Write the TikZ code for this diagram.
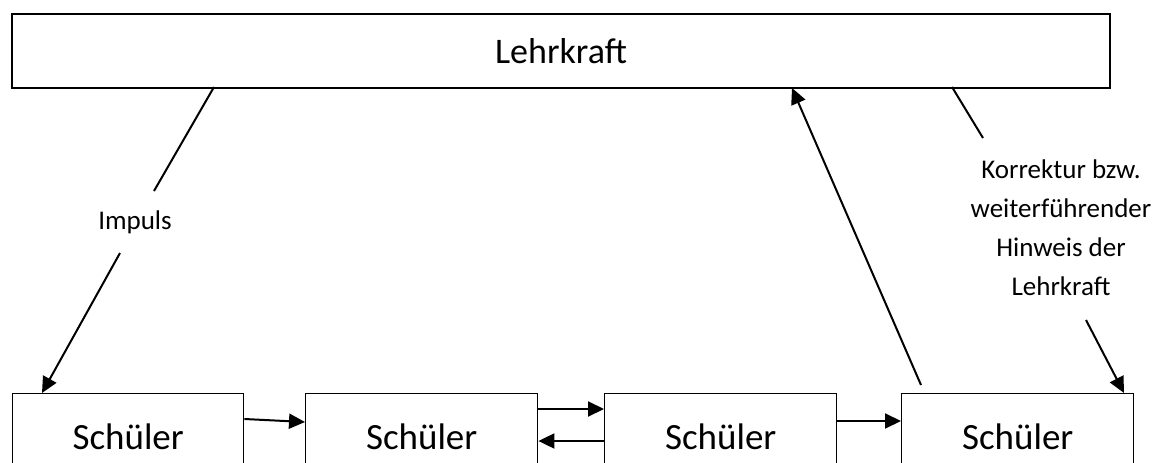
\documentclass[tikz,border=0pt]{standalone}
\usepackage{fontspec}
\setmainfont{Carlito}
\usetikzlibrary{arrows.meta}
\begin{document}
\begin{tikzpicture}[x=1pt,y=-1pt,
  box/.style={draw,line width=1.4pt,inner sep=0pt,anchor=north west,minimum height=86pt,font=\fontsize{37}{44}\selectfont},
  conn/.style={line width=2pt},
  arr/.style={conn,-{Triangle[length=16pt,width=15pt]}},
  lbl/.style={font=\fontsize{27}{39}\selectfont,align=center,inner sep=0pt}]
\useasboundingbox (0,0) rectangle (1173,463);
\clip (0,0) rectangle (1173,463);
\node[box,line width=2pt,minimum width=1098pt,minimum height=74pt,font=\fontsize{36}{43}\selectfont] (L) at (11,13) {Lehrkraft};
\node[box,minimum width=231pt] (S1) at (12,393) {Schüler};
\node[box,minimum width=232pt] (S2) at (305,393) {Schüler};
\node[box,minimum width=232pt] (S3) at (604,393) {Schüler};
\node[box,minimum width=232pt] (S4) at (901,393) {Schüler};
\node[lbl] (imp) at (135,222) {Impuls};
\node[lbl] (kor) at (1061,228) {Korrektur bzw.\\weiterführender\\Hinweis der\\Lehrkraft};
% Impuls
\coordinate (ia) at (214,87);
\coordinate (ib) at (154,191);
\coordinate (ic) at (120,253);
\coordinate (id) at (42,393);
\draw[conn] (ia) -- (ib);
\draw[arr] (ic) -- (id);
% Korrektur
\coordinate (ka) at (952,87);
\coordinate (kb) at (983,138);
\coordinate (kc) at (1086,320);
\coordinate (kd) at (1124,393);
\draw[conn] (ka) -- (kb);
\draw[arr] (kc) -- (kd);
% up arrow
\coordinate (ua) at (921,385);
\coordinate (ub) at (792,88);
\draw[arr] (ua) -- (ub);
% horizontal arrows
\draw[arr] (S1.east |- 0,419) -- (S2.west |- 0,422);
\draw[arr] (S2.east |- 0,409) -- (S3.west |- 0,409);
\draw[arr] (S3.west |- 0,441) -- (S2.east |- 0,441);
\draw[arr] (S3.east |- 0,421) -- (S4.west |- 0,421);
\end{tikzpicture}
\end{document}
